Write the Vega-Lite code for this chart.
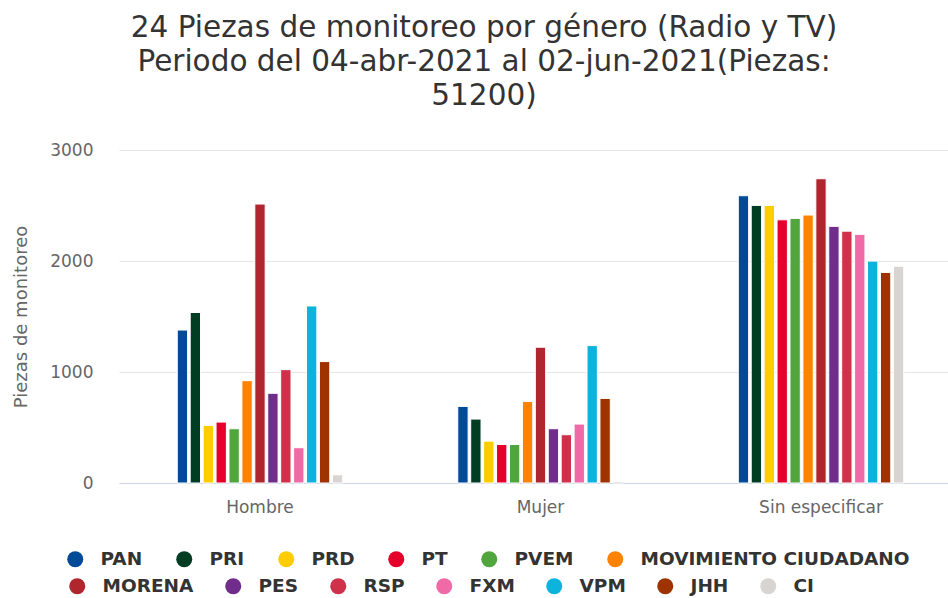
{
  "$schema": "https://vega.github.io/schema/vega-lite/v6.json",
  "width": 829,
  "height": 333,
  "autosize": {"type": "none"},
  "padding": {"left": 119, "top": 150, "right": 0, "bottom": 115},
  "background": "white",
  "title": {
    "text": ["24 Piezas de monitoreo por género (Radio y TV)", "Periodo del 04-abr-2021 al 02-jun-2021(Piezas:", "51200)"],
    "font": "DejaVu Sans",
    "fontSize": 29.5,
    "fontWeight": "normal",
    "color": "#333333",
    "anchor": "middle",
    "frame": "group",
    "dx": -49.5,
    "lineHeight": 34,
    "baseline": "bottom",
    "offset": 1
  },
  "data": {
    "values": [
      {"genero": "Hombre", "partido": "PAN", "piezas": 1378},
      {"genero": "Hombre", "partido": "PRI", "piezas": 1536},
      {"genero": "Hombre", "partido": "PRD", "piezas": 519},
      {"genero": "Hombre", "partido": "PT", "piezas": 549},
      {"genero": "Hombre", "partido": "PVEM", "piezas": 489},
      {"genero": "Hombre", "partido": "MOVIMIENTO CIUDADANO", "piezas": 922},
      {"genero": "Hombre", "partido": "MORENA", "piezas": 2513},
      {"genero": "Hombre", "partido": "PES", "piezas": 808},
      {"genero": "Hombre", "partido": "RSP", "piezas": 1021},
      {"genero": "Hombre", "partido": "FXM", "piezas": 318},
      {"genero": "Hombre", "partido": "VPM", "piezas": 1595},
      {"genero": "Hombre", "partido": "JHH", "piezas": 1094},
      {"genero": "Hombre", "partido": "CI", "piezas": 74},
      {"genero": "Mujer", "partido": "PAN", "piezas": 690},
      {"genero": "Mujer", "partido": "PRI", "piezas": 576},
      {"genero": "Mujer", "partido": "PRD", "piezas": 377},
      {"genero": "Mujer", "partido": "PT", "piezas": 347},
      {"genero": "Mujer", "partido": "PVEM", "piezas": 347},
      {"genero": "Mujer", "partido": "MOVIMIENTO CIUDADANO", "piezas": 735},
      {"genero": "Mujer", "partido": "MORENA", "piezas": 1223},
      {"genero": "Mujer", "partido": "PES", "piezas": 489},
      {"genero": "Mujer", "partido": "RSP", "piezas": 435},
      {"genero": "Mujer", "partido": "FXM", "piezas": 531},
      {"genero": "Mujer", "partido": "VPM", "piezas": 1238},
      {"genero": "Mujer", "partido": "JHH", "piezas": 762},
      {"genero": "Mujer", "partido": "CI", "piezas": 14},
      {"genero": "Sin especificar", "partido": "PAN", "piezas": 2588},
      {"genero": "Sin especificar", "partido": "PRI", "piezas": 2501},
      {"genero": "Sin especificar", "partido": "PRD", "piezas": 2501},
      {"genero": "Sin especificar", "partido": "PT", "piezas": 2371},
      {"genero": "Sin especificar", "partido": "PVEM", "piezas": 2384},
      {"genero": "Sin especificar", "partido": "MOVIMIENTO CIUDADANO", "piezas": 2414},
      {"genero": "Sin especificar", "partido": "MORENA", "piezas": 2741},
      {"genero": "Sin especificar", "partido": "PES", "piezas": 2312},
      {"genero": "Sin especificar", "partido": "RSP", "piezas": 2269},
      {"genero": "Sin especificar", "partido": "FXM", "piezas": 2240},
      {"genero": "Sin especificar", "partido": "VPM", "piezas": 1999},
      {"genero": "Sin especificar", "partido": "JHH", "piezas": 1897},
      {"genero": "Sin especificar", "partido": "CI", "piezas": 1953}
    ]
  },
  "layer": [
    {
      "transform": [{"filter": {"field": "partido", "oneOf": ["PAN", "PRI", "PRD", "PT", "PVEM", "MOVIMIENTO CIUDADANO"]}}],
      "mark": {"type": "bar", "stroke": "white", "strokeWidth": 1},
      "encoding": {
        "x": {"field": "genero", "type": "nominal", "title": null, "sort": ["Hombre", "Mujer", "Sin especificar"],
              "scale": {"domain": ["Hombre", "Mujer", "Sin especificar"], "paddingInner": 0.401, "paddingOuter": 0.1782, "align": 0.57}},
        "xOffset": {"field": "partido", "type": "nominal",
                    "scale": {"domain": ["PAN", "PRI", "PRD", "PT", "PVEM", "MOVIMIENTO CIUDADANO", "MORENA", "PES", "RSP", "FXM", "VPM", "JHH", "CI"], "paddingInner": 0.2, "paddingOuter": 0.1}},
        "y": {"field": "piezas", "type": "quantitative", "title": "Piezas de monitoreo",
              "scale": {"domain": [0, 3000], "nice": false},
              "axis": {"values": [0, 1000, 2000, 3000], "format": "d", "titleX": -98, "titleBaseline": "middle"}},
        "fill": {"field": "partido", "type": "nominal",
                 "scale": {"domain": ["PAN", "PRI", "PRD", "PT", "PVEM", "MOVIMIENTO CIUDADANO"], "range": ["#004a98", "#003d22", "#ffcc00", "#e4002b", "#50a63c", "#ff8300"]},
                 "legend": {"orient": "none", "legendX": -53, "legendY": 400, "direction": "horizontal", "columns": 6, "gridAlign": "none", "title": null, "columnPadding": 32}}
      }
    },
    {
      "transform": [{"filter": {"field": "partido", "oneOf": ["MORENA", "PES", "RSP", "FXM", "VPM", "JHH", "CI"]}}],
      "mark": {"type": "bar", "stroke": "white", "strokeWidth": 1},
      "encoding": {
        "x": {"field": "genero", "type": "nominal", "title": null, "sort": ["Hombre", "Mujer", "Sin especificar"],
              "scale": {"domain": ["Hombre", "Mujer", "Sin especificar"], "paddingInner": 0.401, "paddingOuter": 0.1782, "align": 0.57}},
        "xOffset": {"field": "partido", "type": "nominal",
                    "scale": {"domain": ["PAN", "PRI", "PRD", "PT", "PVEM", "MOVIMIENTO CIUDADANO", "MORENA", "PES", "RSP", "FXM", "VPM", "JHH", "CI"], "paddingInner": 0.2, "paddingOuter": 0.1}},
        "y": {"field": "piezas", "type": "quantitative", "title": "Piezas de monitoreo",
              "scale": {"domain": [0, 3000], "nice": false},
              "axis": {"values": [0, 1000, 2000, 3000], "format": "d", "titleX": -98, "titleBaseline": "middle"}},
        "color": {"field": "partido", "type": "nominal",
                  "scale": {"domain": ["MORENA", "PES", "RSP", "FXM", "VPM", "JHH", "CI"], "range": ["#b0262f", "#712d8b", "#d0314a", "#f06aa7", "#0bb3dd", "#9e3300", "#d8d4d4"]},
                  "legend": {"orient": "none", "legendX": -51, "legendY": 427, "direction": "horizontal", "columns": 7, "gridAlign": "none", "title": null, "columnPadding": 30}}
      }
    }
  ],
  "config": {
    "view": {"stroke": null},
    "axis": {"labelFont": "DejaVu Sans", "labelColor": "#666666", "labelFontSize": 17, "ticks": false,
             "titleFont": "DejaVu Sans", "titleFontWeight": "normal", "titleColor": "#666666", "titleFontSize": 18},
    "axisX": {"domainColor": "#ccd6eb", "domainWidth": 1, "grid": false, "labelPadding": 16, "labelAngle": 0},
    "axisY": {"domain": false, "gridColor": "#e6e6e6", "gridWidth": 1, "labelPadding": 26},
    "legend": {"symbolType": "circle", "symbolSize": 256, "symbolStrokeWidth": 0, "symbolOpacity": 1,
               "labelFont": "DejaVu Sans", "labelFontSize": 18.5, "labelFontWeight": "bold", "labelColor": "#333333",
               "labelOffset": 16, "labelLimit": 400, "padding": 0}
  }
}
